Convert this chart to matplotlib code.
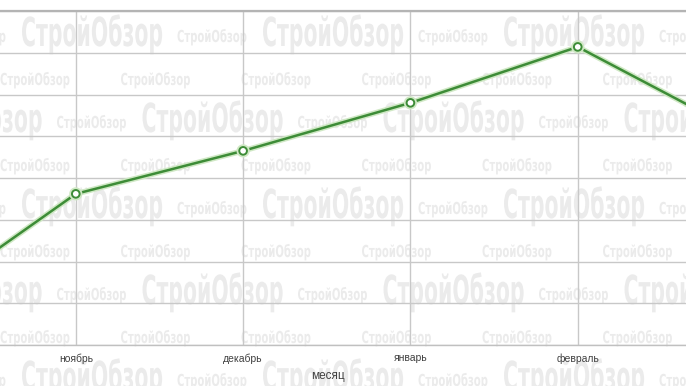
import matplotlib
matplotlib.use("Agg")
import matplotlib.pyplot as plt
import matplotlib.patheffects as pe
from matplotlib.transforms import Affine2D

# chart data (y units = gridline steps)
months = ["октябрь", "ноябрь", "декабрь", "январь", "февраль", "март"]
values = [0.79, 3.62, 4.65, 5.80, 7.14, 5.03]
y_grid = [0, 1, 2, 3, 4, 5, 6, 7, 8]
x_title = "месяц"
watermark = "СтройОбзор"

W, H = 686, 386


# squeeze text glyphs horizontally around a fixed display x
class SqueezeX(pe.AbstractPathEffect):
    def __init__(self, cx, sx):
        super().__init__()
        self.cx = cx
        self.sx = sx

    def draw_path(self, renderer, gc, tpath, affine, rgbFace=None):
        squeeze = Affine2D().translate(-self.cx, 0).scale(self.sx, 1).translate(self.cx, 0)
        renderer.draw_path(gc, tpath, affine + squeeze, rgbFace)


fig = plt.figure(figsize=(W / 100, H / 100), dpi=100)
fig.patch.set_facecolor("white")
ax = fig.add_axes([0, 41 / H, 1, 334 / H])
ax.set_facecolor("none")

# watermark pattern behind the chart
renderer = fig.canvas.get_renderer()
marks = []
for k in range(9):
    base = 42 + 43 * k
    if k % 2 == 1:
        for m in range(-1, 7):
            marks.append((35 + 120.5 * m, base, "small"))
    else:
        shift = 0 if k % 4 == 0 else 120.5
        for m in range(-1, 4):
            marks.append((92 + shift + 241 * m, base + 4, "large"))
            marks.append((212 + shift + 241 * m, base, "small"))

for cx, by, size in marks:
    if cx < -120 or cx > W + 120:
        continue
    fs = 28.8 if size == "large" else 11.9
    target = 142 if size == "large" else 70
    t = fig.text(cx / W, 1 - by / H, watermark, fontsize=fs, fontweight="bold",
                 family="DejaVu Sans", color="#ebebeb", ha="center", va="baseline",
                 zorder=-1)
    w = t.get_window_extent(renderer).width
    t.set_path_effects([SqueezeX(cx, target / w)])

x = list(range(len(months)))
ax.plot(x, values, color="#3d8c37", lw=1.8, marker="o", ms=5.5,
        mfc="white", mec="#3d8c37", mew=1.4, zorder=3,
        path_effects=[pe.Stroke(linewidth=4, foreground="#cfe8c4"), pe.Normal()])

ax.set_xticks(x)
ax.set_xticklabels(months, family="Liberation Sans")
ax.set_yticks(y_grid)
ax.set_yticklabels([])
ax.set_xlim(0.547, 4.647)
ax.set_ylim(0, 8)
ax.set_axisbelow(True)
ax.grid(True, color="#c8c8c8", lw=1)
ax.tick_params(axis="x", length=0, pad=5.8, labelsize=7.5, labelcolor="#404040")
ax.tick_params(axis="y", length=0)

for side in ["left", "right"]:
    ax.spines[side].set_visible(False)
ax.spines["top"].set_color("#b4b4b4")
ax.spines["top"].set_linewidth(1.6)
ax.spines["bottom"].set_color("#c0c0c0")
ax.spines["bottom"].set_linewidth(1)

lbl = ax.set_xlabel(x_title, fontsize=8.5, color="#404040", family="Liberation Sans")
ax.xaxis.set_label_coords(328 / W, (345 - 376) / 334)
lbl.set_verticalalignment("center")

fig.savefig("out.png", dpi=100)
